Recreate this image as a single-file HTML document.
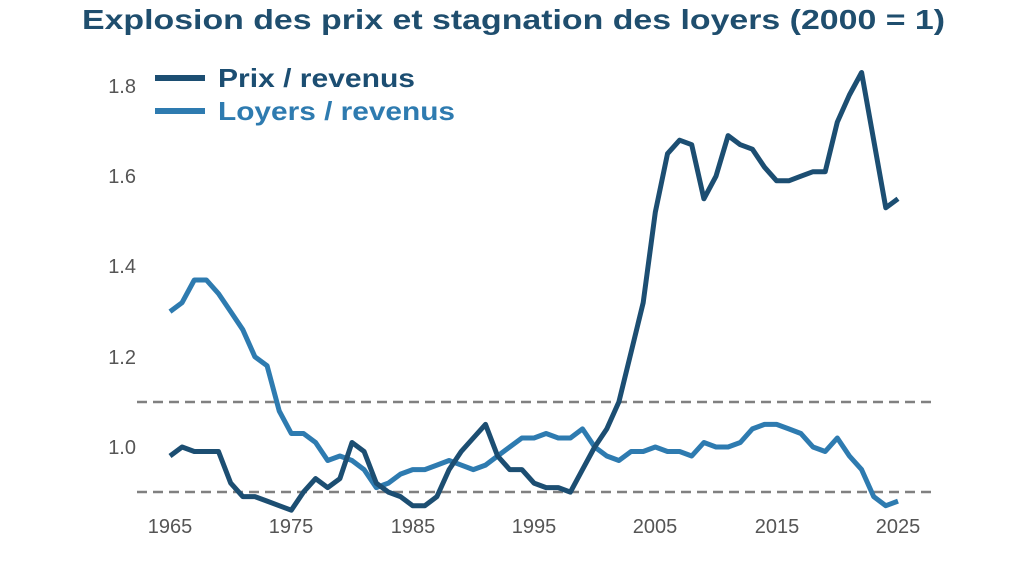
<!DOCTYPE html>
<html><head><meta charset="utf-8"><style>
html,body{margin:0;padding:0;background:#fff;}
svg{display:block;font-family:"Liberation Sans","DejaVu Sans",sans-serif;}
</style></head><body>
<svg id="c" width="1024" height="576" viewBox="0 0 1024 576" xmlns="http://www.w3.org/2000/svg">
<text x="82" y="29" font-size="28" font-weight="bold" fill="#1f4e6e" textLength="863" lengthAdjust="spacingAndGlyphs">Explosion des prix et stagnation des loyers (2000 = 1)</text>
<g font-size="20" fill="#555" text-anchor="end">
<text x="136" y="93">1.8</text><text x="136" y="183">1.6</text><text x="136" y="273">1.4</text>
<text x="136" y="364">1.2</text><text x="136" y="454">1.0</text>
</g>
<g font-size="20" fill="#555" text-anchor="middle">
<text x="170" y="533">1965</text><text x="291" y="533">1975</text><text x="413" y="533">1985</text>
<text x="534" y="533">1995</text><text x="655" y="533">2005</text><text x="777" y="533">2015</text><text x="898" y="533">2025</text>
</g>
<line x1="137" y1="402" x2="935" y2="402" stroke="#808080" stroke-width="2.5" stroke-dasharray="10,6"/>
<line x1="137" y1="492" x2="935" y2="492" stroke="#808080" stroke-width="2.5" stroke-dasharray="10,6"/>
<polyline id="p2" fill="none" stroke="#2e7bb0" stroke-width="5" stroke-linejoin="round"/>
<polyline id="p1" fill="none" stroke="#1c4e72" stroke-width="5" stroke-linejoin="round"/>
<line x1="155" y1="78" x2="205" y2="78" stroke="#1c4e72" stroke-width="6"/>
<text x="218" y="87" font-size="26" font-weight="bold" fill="#1c4e72" textLength="197" lengthAdjust="spacingAndGlyphs">Prix / revenus</text>
<line x1="155" y1="111" x2="205" y2="111" stroke="#2e7bb0" stroke-width="6"/>
<text x="218" y="120" font-size="26" font-weight="bold" fill="#2e7bb0" textLength="237" lengthAdjust="spacingAndGlyphs">Loyers / revenus</text>
</svg>
<script>
var a=[0.98,1.00,0.99,0.99,0.99,0.92,0.89,0.89,0.88,0.87,0.86,0.90,0.93,0.91,0.93,1.01,0.99,0.92,0.90,0.89,0.87,0.87,0.89,0.95,0.99,1.02,1.05,0.98,0.95,0.95,0.92,0.91,0.91,0.90,0.95,1.00,1.04,1.10,1.21,1.32,1.52,1.65,1.68,1.67,1.55,1.60,1.69,1.67,1.66,1.62,1.59,1.59,1.60,1.61,1.61,1.72,1.78,1.83,1.68,1.53,1.55];
var b=[1.30,1.32,1.37,1.37,1.34,1.30,1.26,1.20,1.18,1.08,1.03,1.03,1.01,0.97,0.98,0.97,0.95,0.91,0.92,0.94,0.95,0.95,0.96,0.97,0.96,0.95,0.96,0.98,1.00,1.02,1.02,1.03,1.02,1.02,1.04,1.00,0.98,0.97,0.99,0.99,1.00,0.99,0.99,0.98,1.01,1.00,1.00,1.01,1.04,1.05,1.05,1.04,1.03,1.00,0.99,1.02,0.98,0.95,0.89,0.87,0.88];
function pts(d){return d.map(function(v,i){return (170+i*12.133).toFixed(1)+","+(447-(v-1)*451.25).toFixed(1)}).join(" ");}
document.getElementById("p1").setAttribute("points",pts(a));
document.getElementById("p2").setAttribute("points",pts(b));
</script>
</body></html>
